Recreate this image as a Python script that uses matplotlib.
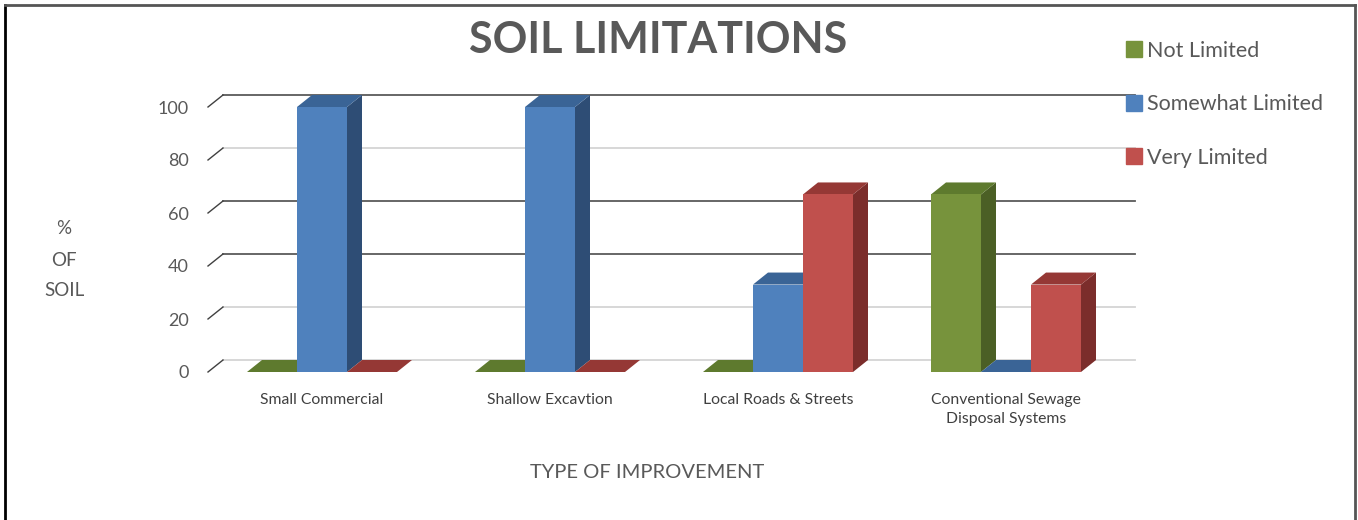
import numpy as np
import matplotlib.pyplot as plt
from matplotlib.patches import Polygon
from matplotlib.lines import Line2D

categories = ["Small Commercial", "Shallow Excavtion", "Local Roads & Streets",
              "Conventional Sewage\nDisposal Systems"]
series = ["Not Limited", "Somewhat Limited", "Very Limited"]
not_limited = [0, 0, 0, 67]
somewhat_limited = [100, 100, 33, 0]
very_limited = [0, 0, 67, 33]
yticks = [0, 20, 40, 60, 80, 100]

# front / side / top face colours for the fake 3d look
front = ["#77933C", "#4F81BD", "#C0504D"]
side = ["#4B5F25", "#2E4D75", "#7B2D2B"]
top = ["#5E7A2E", "#3A6496", "#953835"]

plt.rcParams["font.family"] = ["Lato", "DejaVu Sans"]
text_c = "#595959"

fig = plt.figure(figsize=(13.58, 5.2), dpi=100)
ax = fig.add_axes([208 / 1358, 148 / 520, 912 / 1358, 265 / 520])
ax.set_xlim(-0.5, 3.5)
ax.set_ylim(0, 100)

dx, dy = 15 / 228, 12 / 2.65   # depth offset in data units
w = 50 / 228
x = np.arange(len(categories))

# back wall gridlines and the little diagonal ticks
for v in yticks:
    c = "#5a5a5a" if v in (40, 60, 100) else "#d4d4d4"
    ax.plot([-0.5 + dx, 3.5 + dx], [v + dy, v + dy], color=c, lw=1.3,
            clip_on=False, zorder=1)
    ax.plot([-0.5, -0.5 + dx], [v, v + dy], color="#404040", lw=1,
            clip_on=False, zorder=1)

data = [not_limited, somewhat_limited, very_limited]
z = 2
for i in range(len(categories)):
    for s in range(3):
        v = data[s][i]
        x0 = x[i] + (s - 1) * w - w / 2
        x1 = x0 + w
        sp = Polygon([(x1, 0), (x1 + dx, dy), (x1 + dx, v + dy), (x1, v)],
                     closed=True, fc=side[s], ec="none", clip_on=False, zorder=z)
        tp = Polygon([(x0, v), (x0 + dx, v + dy), (x1 + dx, v + dy), (x1, v)],
                     closed=True, fc=top[s], ec="none", clip_on=False, zorder=z)
        ax.add_patch(sp)
        ax.add_patch(tp)
        ax.bar(x0, v, width=w, align="edge", color=front[s], zorder=z,
               clip_on=False)
        z += 1

for sp_ in ax.spines.values():
    sp_.set_visible(False)
ax.set_yticks(yticks)
ax.set_yticklabels([str(t) for t in yticks], fontsize=13, color=text_c)
ax.tick_params(axis="y", length=0, pad=14)
ax.set_xticks(x)
ax.set_xticklabels(categories, fontsize=11.3, color="#404040", linespacing=1.45)
ax.tick_params(axis="x", length=0, pad=15)
ax.patch.set_visible(False)

fig.text(658 / 1358, 1 - 40 / 520, "SOIL LIMITATIONS", fontsize=31,
         fontweight="bold", color=text_c, ha="center", va="center")
fig.text(64 / 1358, 1 - 260 / 520, "%\nOF\nSOIL", fontsize=13.5, color=text_c,
         ha="center", va="center", linespacing=2.0)
fig.text(647 / 1358, 1 - 472 / 520, "TYPE OF IMPROVEMENT", fontsize=14.5,
         color=text_c, ha="center", va="center")

leg_h = [Line2D([], [], marker="s", ls="none", color=c, markersize=11)
         for c in front]
fig.legend(leg_h, series, loc="upper left",
           bbox_to_anchor=(1116 / 1358, 1 - 30 / 520), frameon=False,
           fontsize=15.5, labelcolor=text_c, handlelength=0.7,
           handletextpad=0.25, labelspacing=1.55, borderpad=0)

# outer frame of the screenshot
fig.add_artist(Line2D([5 / 1358, 5 / 1358], [0, 1 - 5 / 520], color="black", lw=2))
fig.add_artist(Line2D([5 / 1358, 1355 / 1358], [1 - 5 / 520, 1 - 5 / 520],
                      color="#555555", lw=2))
fig.add_artist(Line2D([1355 / 1358, 1355 / 1358], [0, 1 - 5 / 520],
                      color="#555555", lw=2))

fig.savefig("out.png", dpi=100)
